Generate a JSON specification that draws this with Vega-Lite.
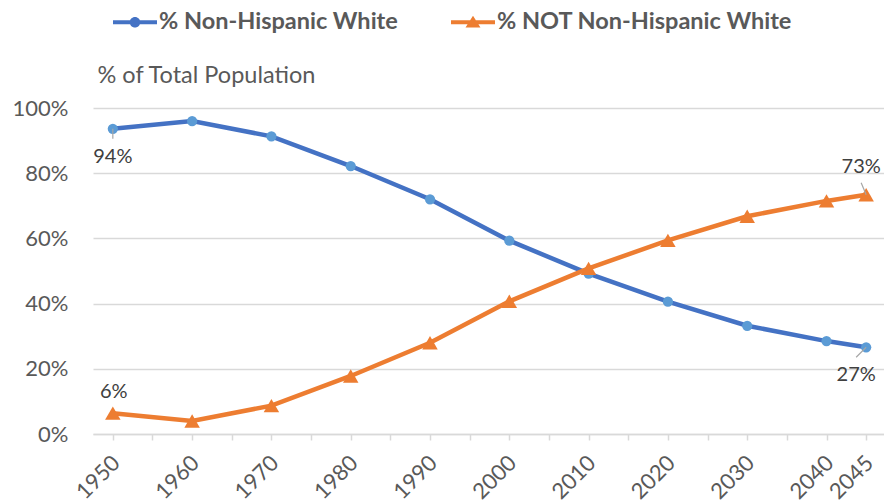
{
  "$schema": "https://vega.github.io/schema/vega-lite/v6.json",
  "width": 791,
  "height": 326,
  "autosize": {"type": "none"},
  "padding": {"left": 93, "top": 108, "right": 0, "bottom": 70},
  "background": "white",
  "config": {
    "font": "Lato",
    "view": {"stroke": null},
    "axis": {"labelFont": "Lato", "titleFont": "Lato"},
    "legend": {"labelFont": "Lato"}
  },
  "data": {
    "values": [
      {"year": 1950, "series": "% Non-Hispanic White", "value": 93.6},
      {"year": 1960, "series": "% Non-Hispanic White", "value": 96.0},
      {"year": 1970, "series": "% Non-Hispanic White", "value": 91.3},
      {"year": 1980, "series": "% Non-Hispanic White", "value": 82.2},
      {"year": 1990, "series": "% Non-Hispanic White", "value": 72.0},
      {"year": 2000, "series": "% Non-Hispanic White", "value": 59.3},
      {"year": 2010, "series": "% Non-Hispanic White", "value": 49.2},
      {"year": 2020, "series": "% Non-Hispanic White", "value": 40.6},
      {"year": 2030, "series": "% Non-Hispanic White", "value": 33.2},
      {"year": 2040, "series": "% Non-Hispanic White", "value": 28.5},
      {"year": 2045, "series": "% Non-Hispanic White", "value": 26.6},
      {"year": 1950, "series": "% NOT Non-Hispanic White", "value": 6.4},
      {"year": 1960, "series": "% NOT Non-Hispanic White", "value": 4.0},
      {"year": 1970, "series": "% NOT Non-Hispanic White", "value": 8.7},
      {"year": 1980, "series": "% NOT Non-Hispanic White", "value": 17.8},
      {"year": 1990, "series": "% NOT Non-Hispanic White", "value": 28.0},
      {"year": 2000, "series": "% NOT Non-Hispanic White", "value": 40.7},
      {"year": 2010, "series": "% NOT Non-Hispanic White", "value": 50.8},
      {"year": 2020, "series": "% NOT Non-Hispanic White", "value": 59.4},
      {"year": 2030, "series": "% NOT Non-Hispanic White", "value": 66.8},
      {"year": 2040, "series": "% NOT Non-Hispanic White", "value": 71.5},
      {"year": 2045, "series": "% NOT Non-Hispanic White", "value": 73.4}
    ]
  },
  "transform": [{"calculate": "format(datum.value, '.0f') + '%'", "as": "label"}],
  "encoding": {
    "x": {
      "field": "year",
      "type": "quantitative",
      "scale": {"domain": [1947.5, 2047.25], "nice": false, "zero": false},
      "axis": {
        "title": null,
        "values": [1950, 1955, 1960, 1965, 1970, 1975, 1980, 1985, 1990, 1995, 2000, 2005, 2010, 2015, 2020, 2025, 2030, 2035, 2040, 2045],
        "labelExpr": "(datum.value % 10 == 0 || datum.value == 2045) ? '' + datum.value : ''",
        "labelAngle": -45,
        "labelFontSize": 22,
        "labelColor": "#595959",
        "labelPadding": 12,
        "labelOffset": -4,
        "labelOverlap": false,
        "labelFlush": false,
        "domainColor": "#D9D9D9",
        "domainWidth": 1.5,
        "tickColor": "#D9D9D9",
        "tickWidth": 1.5,
        "tickSize": 6,
        "grid": false
      }
    },
    "y": {
      "field": "value",
      "type": "quantitative",
      "scale": {"domain": [0, 100], "nice": false},
      "axis": {
        "values": [0, 20, 40, 60, 80, 100],
        "labelExpr": "datum.value + '%'",
        "labelFontSize": 22,
        "labelColor": "#595959",
        "labelPadding": 25,
        "domain": false,
        "ticks": false,
        "grid": true,
        "gridColor": "#D9D9D9",
        "gridWidth": 1.5,
        "title": "% of Total Population",
        "titleAngle": 0,
        "titleAlign": "left",
        "titleBaseline": "middle",
        "titleX": 4,
        "titleY": -33,
        "titleFontSize": 23.5,
        "titleFontWeight": "normal",
        "titleColor": "#595959"
      }
    }
  },
  "layer": [
    {
      "transform": [{"filter": "datum.series == '% Non-Hispanic White'"}],
      "mark": {"type": "line", "stroke": "#4472C4", "strokeWidth": 4.5}
    },
    {
      "transform": [{"filter": "datum.series == '% NOT Non-Hispanic White'"}],
      "mark": {"type": "line", "stroke": "#ED7D31", "strokeWidth": 4.5}
    },
    {
      "transform": [{"filter": "datum.series == '% Non-Hispanic White'"}],
      "mark": {"type": "point", "shape": "circle", "filled": true, "size": 105, "color": "#5B9BD5", "opacity": 1}
    },
    {
      "transform": [{"filter": "datum.series == '% NOT Non-Hispanic White'"}],
      "mark": {"type": "point", "shape": "triangle-up", "filled": true, "size": 240, "color": "#ED7D31", "opacity": 1}
    },
    {
      "mark": {"type": "point", "filled": true, "opacity": 0},
      "encoding": {
        "color": {
          "field": "series",
          "type": "nominal",
          "scale": {"domain": ["% Non-Hispanic White", "% NOT Non-Hispanic White"], "range": ["#4472C4", "#ED7D31"]},
          "legend": {
            "title": null,
            "orient": "none",
            "direction": "horizontal",
            "legendX": 20,
            "legendY": -108,
            "symbolSize": 1936,
            "symbolOpacity": 1,
            "symbolStrokeWidth": 0,
            "labelFontSize": 23.5,
            "labelFontWeight": "bold",
            "labelLimit": 500,
            "labelColor": "#595959",
            "labelOffset": 2,
            "columnPadding": 53
          }
        },
        "shape": {
          "field": "series",
          "type": "nominal",
          "scale": {
            "domain": ["% Non-Hispanic White", "% NOT Non-Hispanic White"],
            "range": [
              "M-1,-0.09H1V0.09H-1Z M0.24,0A0.24,0.24 0 1,1 -0.24,0A0.24,0.24 0 1,1 0.24,0Z",
              "M-1,-0.09H1V0.09H-1Z M0,-0.3L0.34,0.24L-0.34,0.24Z"
            ]
          },
          "legend": {
            "title": null,
            "orient": "none",
            "direction": "horizontal",
            "legendX": 20,
            "legendY": -108,
            "symbolSize": 1936,
            "symbolOpacity": 1,
            "symbolStrokeWidth": 0,
            "labelFontSize": 23.5,
            "labelFontWeight": "bold",
            "labelLimit": 500,
            "labelColor": "#595959",
            "labelOffset": 2,
            "columnPadding": 53
          }
        }
      }
    },
    {
      "transform": [{"filter": "datum.series == '% Non-Hispanic White' && datum.year == 1950"}],
      "mark": {"type": "rule", "stroke": "#A6A6A6", "strokeWidth": 1.2, "y2Offset": 10},
      "encoding": {"x2": {"field": "year"}, "y2": {"field": "value"}}
    },
    {
      "transform": [{"filter": "datum.series == '% NOT Non-Hispanic White' && datum.year == 2045"}],
      "mark": {"type": "rule", "stroke": "#A6A6A6", "strokeWidth": 1.2, "x2Offset": -5, "y2Offset": -12},
      "encoding": {"x2": {"field": "year"}, "y2": {"field": "value"}}
    },
    {
      "transform": [{"filter": "datum.series == '% Non-Hispanic White' && datum.year == 2045"}],
      "mark": {"type": "rule", "stroke": "#A6A6A6", "strokeWidth": 1.2, "x2Offset": -10, "y2Offset": 10},
      "encoding": {"x2": {"field": "year"}, "y2": {"field": "value"}}
    },
    {
      "transform": [{"filter": "datum.series == '% Non-Hispanic White' && datum.year == 1950"}],
      "mark": {"type": "text", "fontSize": 20, "color": "#404040", "dy": 28, "dx": 0},
      "encoding": {"text": {"field": "label", "type": "nominal"}}
    },
    {
      "transform": [{"filter": "datum.series == '% NOT Non-Hispanic White' && datum.year == 1950"}],
      "mark": {"type": "text", "fontSize": 20, "color": "#404040", "dy": -21, "dx": 1},
      "encoding": {"text": {"field": "label", "type": "nominal"}}
    },
    {
      "transform": [{"filter": "datum.series == '% NOT Non-Hispanic White' && datum.year == 2045"}],
      "mark": {"type": "text", "fontSize": 20, "color": "#404040", "dy": -28, "dx": -5},
      "encoding": {"text": {"field": "label", "type": "nominal"}}
    },
    {
      "transform": [{"filter": "datum.series == '% Non-Hispanic White' && datum.year == 2045"}],
      "mark": {"type": "text", "fontSize": 20, "color": "#404040", "dy": 28, "dx": -10},
      "encoding": {"text": {"field": "label", "type": "nominal"}}
    }
  ]
}
